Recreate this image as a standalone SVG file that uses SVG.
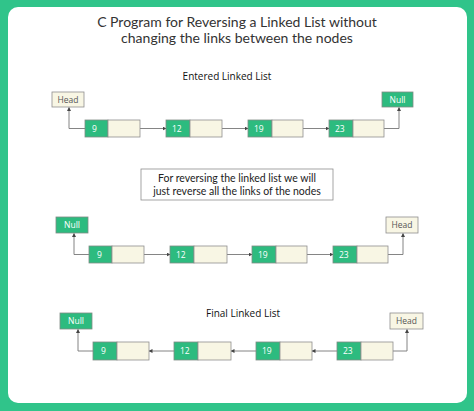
<svg xmlns="http://www.w3.org/2000/svg" width="474" height="411" viewBox="0 0 474 411">
<style>
text{font-family:"Open Sans","Liberation Sans",sans-serif}
.title{font-family:Lato,"Open Sans",sans-serif;font-size:14px;fill:#333;text-anchor:middle}
.sub{font-size:10px;fill:#111;text-anchor:middle}
.note{font-family:Lato,"Open Sans",sans-serif;font-size:10.5px;fill:#222;text-anchor:middle}
.g{fill:#2dbb7f;stroke:#7f8c84;stroke-width:0.8}
.c{fill:#f8f6e4;stroke:#8e8e8e;stroke-width:0.8}
.wt{font-size:8.5px;fill:#fff;text-anchor:middle}
.wl{font-size:8.5px;fill:#fff}
.dt{font-size:8.5px;fill:#555;text-anchor:middle}
.ln{fill:none;stroke:#777;stroke-width:0.9}
</style>
<defs>
<marker id="ah" markerWidth="4" markerHeight="4" refX="3.5" refY="2" orient="auto" markerUnits="userSpaceOnUse">
<path d="M0,0 L4,2 L0,4 Z" fill="#444"/>
</marker>
</defs>
<rect x="0" y="0" width="474" height="411" fill="#30c48a"/>
<rect x="8" y="7" width="459" height="396" rx="10" fill="#fff"/>
<text class="title" x="237" y="27">C Program for Reversing a Linked List without</text>
<text class="title" x="237" y="43">changing the links between the nodes</text>
<text class="sub" x="227" y="80">Entered Linked List</text>
<g id="note">
<rect x="141" y="169" width="192" height="31" fill="#fff" stroke="#8e8e8e" stroke-width="0.8"/>
<text class="note" x="237" y="182">For reversing the linked list we will</text>
<text class="note" x="237" y="194.5">just reverse all the links of the nodes</text>
</g>
<text class="sub" x="243" y="317">Final Linked List</text>

<g id="connectors">
<path class="ln" d="M85,128.5 H69 V107.5" marker-end="url(#ah)"/>
<path class="ln" d="M140,128.5 H166" marker-end="url(#ah)"/>
<path class="ln" d="M222,128.5 H248" marker-end="url(#ah)"/>
<path class="ln" d="M303,128.5 H329" marker-end="url(#ah)"/>
<path class="ln" d="M384,128.5 H399 V107.5" marker-end="url(#ah)"/>

<path class="ln" d="M89,254.5 H74 V233.5" marker-end="url(#ah)"/>
<path class="ln" d="M144,254.5 H170" marker-end="url(#ah)"/>
<path class="ln" d="M227,254.5 H252" marker-end="url(#ah)"/>
<path class="ln" d="M307,254.5 H333" marker-end="url(#ah)"/>
<path class="ln" d="M388,254.5 H403 V233.5" marker-end="url(#ah)"/>

<path class="ln" d="M93,351 H78 V329.5" marker-end="url(#ah)"/>
<path class="ln" d="M174,351 H149" marker-end="url(#ah)"/>
<path class="ln" d="M256,351 H231" marker-end="url(#ah)"/>
<path class="ln" d="M337,351 H312" marker-end="url(#ah)"/>
<path class="ln" d="M393,351 H407 V329.5" marker-end="url(#ah)"/>
</g>

<!-- Row 1 -->
<g id="r1-head"><rect class="c" x="52" y="92" width="32" height="15"/><text class="dt" x="68" y="102.5">Head</text></g>
<g id="r1-null"><rect class="g" x="382" y="92" width="31" height="15"/><text class="wt" x="397.5" y="102.5">Null</text></g>
<g id="r1-n9"><rect class="g" x="85" y="120" width="23" height="17"/><rect class="c" x="108" y="120" width="32" height="17"/><text class="wl" x="92" y="131.5">9</text></g>
<g id="r1-n12"><rect class="g" x="166" y="120" width="24" height="17"/><rect class="c" x="190" y="120" width="32" height="17"/><text class="wl" x="172" y="131.5">12</text></g>
<g id="r1-n19"><rect class="g" x="248" y="120" width="24" height="17"/><rect class="c" x="272" y="120" width="31" height="17"/><text class="wl" x="254" y="131.5">19</text></g>
<g id="r1-n23"><rect class="g" x="329" y="120" width="24" height="17"/><rect class="c" x="353" y="120" width="31" height="17"/><text class="wl" x="335" y="131.5">23</text></g>

<!-- Row 2 -->
<g id="r2-null"><rect class="g" x="56" y="217" width="32" height="16"/><text class="wt" x="72" y="228">Null</text></g>
<g id="r2-head"><rect class="c" x="386" y="217" width="32" height="16"/><text class="dt" x="402" y="228">Head</text></g>
<g id="r2-n9"><rect class="g" x="89" y="246" width="23" height="17"/><rect class="c" x="112" y="246" width="32" height="17"/><text class="wl" x="97" y="257.5">9</text></g>
<g id="r2-n12"><rect class="g" x="170" y="246" width="24" height="17"/><rect class="c" x="194" y="246" width="33" height="17"/><text class="wl" x="176" y="257.5">12</text></g>
<g id="r2-n19"><rect class="g" x="252" y="246" width="24" height="17"/><rect class="c" x="276" y="246" width="31" height="17"/><text class="wl" x="258" y="257.5">19</text></g>
<g id="r2-n23"><rect class="g" x="333" y="246" width="24" height="17"/><rect class="c" x="357" y="246" width="31" height="17"/><text class="wl" x="339" y="257.5">23</text></g>

<!-- Row 3 -->
<g id="r3-null"><rect class="g" x="60" y="313" width="32" height="16"/><text class="wt" x="76" y="324">Null</text></g>
<g id="r3-head"><rect class="c" x="390" y="313" width="33" height="16"/><text class="dt" x="406.5" y="324">Head</text></g>
<g id="r3-n9"><rect class="g" x="93" y="342" width="24" height="18"/><rect class="c" x="117" y="342" width="32" height="18"/><text class="wl" x="101" y="354">9</text></g>
<g id="r3-n12"><rect class="g" x="174" y="342" width="24" height="18"/><rect class="c" x="198" y="342" width="33" height="18"/><text class="wl" x="180" y="354">12</text></g>
<g id="r3-n19"><rect class="g" x="256" y="342" width="24" height="18"/><rect class="c" x="280" y="342" width="32" height="18"/><text class="wl" x="262" y="354">19</text></g>
<g id="r3-n23"><rect class="g" x="337" y="342" width="24" height="18"/><rect class="c" x="361" y="342" width="32" height="18"/><text class="wl" x="343" y="354">23</text></g>
</svg>
